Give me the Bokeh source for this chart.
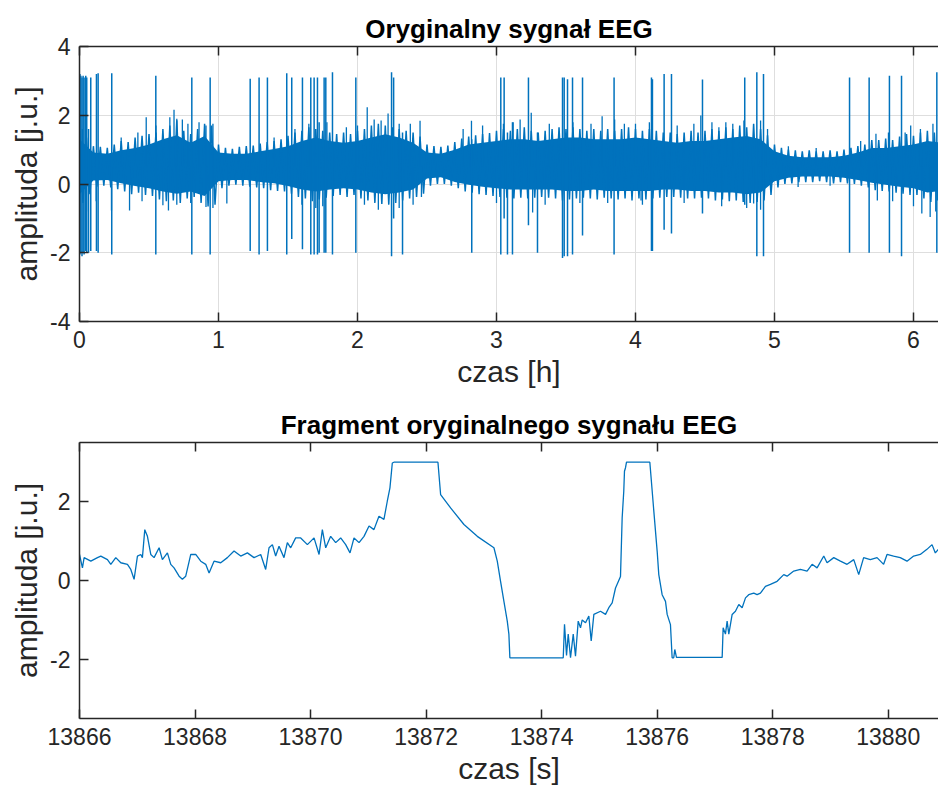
from bokeh.plotting import figure
from bokeh.layouts import column
from bokeh.models import LinearAxis, FixedTicker, Range1d
from bokeh.embed import file_html
from bokeh.resources import INLINE

BLUE = "#0072BD"
INK = "#262626"
FONT = "Liberation Sans"

# ---------------- whole recording (time in hours) ----------------
# solid core of the background activity
core_t = [0.0, 0.1, 0.2, 0.3, 0.4, 0.5, 0.6, 0.7, 0.8, 0.9,
          1.0, 1.1, 1.2, 1.3, 1.4, 1.5, 1.6, 1.7, 1.8, 1.9,
          2.0, 2.1, 2.2, 2.3, 2.4, 2.5, 2.6, 2.7, 2.8, 2.9,
          3.0, 3.1, 3.2, 3.3, 3.4, 3.5, 3.6, 3.7, 3.8, 3.9,
          4.0, 4.1, 4.2, 4.3, 4.4, 4.5, 4.6, 4.7, 4.8, 4.9,
          5.0, 5.1, 5.2, 5.3, 5.4, 5.5, 5.6, 5.7, 5.8, 5.9,
          6.0, 6.1, 6.2]
core_hi = [1.30, 0.92, 0.88, 0.98, 1.05, 1.15, 1.30, 1.42, 1.20, 1.40,
           0.92, 0.88, 0.88, 0.95, 1.02, 1.10, 1.25, 1.35, 1.25, 1.20,
           1.25, 1.35, 1.45, 1.35, 1.20, 0.92, 0.88, 1.00, 1.15, 1.20,
           1.25, 1.30, 1.30, 1.25, 1.30, 1.35, 1.35, 1.30, 1.30, 1.30,
           1.35, 1.30, 1.25, 1.20, 1.25, 1.25, 1.30, 1.35, 1.40, 1.30,
           0.95, 0.82, 0.78, 0.78, 0.78, 0.82, 0.92, 1.05, 1.05, 1.10,
           1.15, 1.25, 1.20]
core_lo = [-0.30, 0.10, 0.12, 0.02, -0.06, -0.12, -0.22, -0.28, -0.22, -0.35,
           0.08, 0.12, 0.12, 0.06, 0.02, -0.06, -0.16, -0.22, -0.16, -0.12,
           -0.16, -0.25, -0.30, -0.25, -0.16, 0.16, 0.20, 0.06, -0.02, -0.08,
           -0.12, -0.16, -0.16, -0.16, -0.16, -0.20, -0.20, -0.16, -0.20, -0.20,
           -0.20, -0.20, -0.16, -0.16, -0.20, -0.20, -0.25, -0.25, -0.30, -0.25,
           0.08, 0.18, 0.22, 0.22, 0.22, 0.18, 0.12, 0.04, -0.02, -0.08,
           -0.12, -0.25, -0.20]

# dense oscillation around the core: alternating crests and troughs
trace_t = [0.000, 0.025, 0.050, 0.075, 0.100, 0.125, 0.150, 0.175, 0.200, 0.225,
           0.250, 0.275, 0.300, 0.325, 0.350, 0.375, 0.400, 0.425, 0.450, 0.475,
           0.500, 0.525, 0.550, 0.575, 0.600, 0.625, 0.650, 0.675, 0.700, 0.725,
           0.750, 0.775, 0.800, 0.825, 0.850, 0.875, 0.900, 0.925, 0.950, 0.975,
           1.000, 1.025, 1.050, 1.075, 1.100, 1.125, 1.150, 1.175, 1.200, 1.225,
           1.250, 1.275, 1.300, 1.325, 1.350, 1.375, 1.400, 1.425, 1.450, 1.475,
           1.500, 1.525, 1.550, 1.575, 1.600, 1.625, 1.650, 1.675, 1.700, 1.725,
           1.750, 1.775, 1.800, 1.825, 1.850, 1.875, 1.900, 1.925, 1.950, 1.975,
           2.000, 2.025, 2.050, 2.075, 2.100, 2.125, 2.150, 2.175, 2.200, 2.225,
           2.250, 2.275, 2.300, 2.325, 2.350, 2.375, 2.400, 2.425, 2.450, 2.475,
           2.500, 2.525, 2.550, 2.575, 2.600, 2.625, 2.650, 2.675, 2.700, 2.725,
           2.750, 2.775, 2.800, 2.825, 2.850, 2.875, 2.900, 2.925, 2.950, 2.975,
           3.000, 3.025, 3.050, 3.075, 3.100, 3.125, 3.150, 3.175, 3.200, 3.225,
           3.250, 3.275, 3.300, 3.325, 3.350, 3.375, 3.400, 3.425, 3.450, 3.475,
           3.500, 3.525, 3.550, 3.575, 3.600, 3.625, 3.650, 3.675, 3.700, 3.725,
           3.750, 3.775, 3.800, 3.825, 3.850, 3.875, 3.900, 3.925, 3.950, 3.975,
           4.000, 4.025, 4.050, 4.075, 4.100, 4.125, 4.150, 4.175, 4.200, 4.225,
           4.250, 4.275, 4.300, 4.325, 4.350, 4.375, 4.400, 4.425, 4.450, 4.475,
           4.500, 4.525, 4.550, 4.575, 4.600, 4.625, 4.650, 4.675, 4.700, 4.725,
           4.750, 4.775, 4.800, 4.825, 4.850, 4.875, 4.900, 4.925, 4.950, 4.975,
           5.000, 5.025, 5.050, 5.075, 5.100, 5.125, 5.150, 5.175, 5.200, 5.225,
           5.250, 5.275, 5.300, 5.325, 5.350, 5.375, 5.400, 5.425, 5.450, 5.475,
           5.500, 5.525, 5.550, 5.575, 5.600, 5.625, 5.650, 5.675, 5.700, 5.725,
           5.750, 5.775, 5.800, 5.825, 5.850, 5.875, 5.900, 5.925, 5.950, 5.975,
           6.000, 6.025, 6.050, 6.075, 6.100, 6.125, 6.150, 6.175]
trace_v = [1.55, -0.55, 1.35, -0.30, 1.10, -0.08, 1.08, -0.05, 1.05, -0.10,
           1.15, -0.15, 1.25, -0.22, 1.22, -0.30, 1.35, -0.25, 1.40, -0.32,
           1.45, -0.35, 1.50, -0.45, 1.60, -0.50, 1.70, -0.48, 1.85, -0.55,
           1.55, -0.42, 1.45, -0.38, 1.60, -0.55, 1.75, -0.65, 1.70, -0.60,
           1.15, -0.12, 1.05, -0.05, 1.02, -0.02, 1.08, -0.05, 1.10, -0.08,
           1.12, -0.10, 1.18, -0.12, 1.22, -0.18, 1.25, -0.20, 1.30, -0.22,
           1.40, -0.28, 1.50, -0.38, 1.55, -0.42, 1.65, -0.50, 1.60, -0.45,
           1.55, -0.40, 1.50, -0.35, 1.45, -0.32, 1.50, -0.38, 1.45, -0.32,
           1.55, -0.42, 1.60, -0.48, 1.70, -0.55, 1.75, -0.58, 1.70, -0.60,
           1.65, -0.55, 1.60, -0.48, 1.55, -0.42, 1.50, -0.38, 1.38, -0.28,
           1.15, -0.05, 1.10, 0.00, 1.08, 0.00, 1.12, -0.05, 1.22, -0.12,
           1.32, -0.22, 1.38, -0.25, 1.42, -0.30, 1.45, -0.32, 1.48, -0.35,
           1.55, -0.38, 1.60, -0.40, 1.55, -0.42, 1.60, -0.40, 1.65, -0.42,
           1.55, -0.40, 1.50, -0.38, 1.55, -0.40, 1.60, -0.42, 1.65, -0.48,
           1.60, -0.45, 1.65, -0.42, 1.60, -0.40, 1.55, -0.42, 1.60, -0.45,
           1.55, -0.40, 1.60, -0.42, 1.55, -0.45, 1.60, -0.42, 1.65, -0.48,
           1.60, -0.42, 1.55, -0.45, 1.60, -0.42, 1.55, -0.40, 1.50, -0.38,
           1.50, -0.38, 1.45, -0.40, 1.50, -0.42, 1.55, -0.42, 1.50, -0.40,
           1.55, -0.42, 1.60, -0.48, 1.55, -0.45, 1.65, -0.50, 1.60, -0.48,
           1.70, -0.52, 1.65, -0.55, 1.75, -0.52, 1.60, -0.48, 1.42, -0.32,
           1.15, -0.10, 1.05, 0.00, 1.00, 0.02, 0.98, 0.05, 0.95, 0.05,
           0.98, 0.05, 0.95, 0.08, 0.95, 0.05, 0.98, 0.02, 0.95, 0.05,
           1.00, 0.02, 1.05, 0.00, 1.10, -0.05, 1.15, -0.10, 1.28, -0.18,
           1.28, -0.20, 1.32, -0.22, 1.28, -0.25, 1.38, -0.28, 1.45, -0.32,
           1.40, -0.32, 1.50, -0.42, 1.55, -0.52, 1.50, -0.48]

# saturating artefacts: time, positive peak, negative peak
art_t = [0.003, 0.010, 0.018, 0.026, 0.033, 0.045, 0.052, 0.065, 0.081, 0.122,
         0.134, 0.232, 0.549, 0.808, 0.940, 1.228, 1.292, 1.352, 1.491, 1.527,
         1.604, 1.664, 1.688, 1.712, 1.724, 1.760, 1.772, 1.820, 1.988, 2.245,
         2.260, 2.324, 2.822, 3.031, 3.055, 3.079, 3.115, 3.230, 3.295, 3.475,
         3.487, 3.511, 3.547, 3.619, 3.846, 4.115, 4.122, 4.206, 4.259, 4.482,
         4.786, 4.873, 4.921, 5.540, 5.681, 5.827, 5.914, 6.168]
art_hi = [3.20, 3.15, 3.10, 3.15, 3.10, 3.15, 3.10, 1.60, 3.10, 3.20,
          3.22, 3.22, 3.15, 3.10, 3.10, 3.06, 3.10, 3.10, 3.22, 3.10,
          3.10, 3.10, 3.10, 3.10, 1.80, 3.10, 3.10, 3.25, 3.10, 3.25,
          3.10, 1.50, 1.30, 3.10, 3.10, 1.50, 1.80, 3.10, 1.50, 3.10,
          3.10, 3.05, 3.10, 3.10, 3.10, 3.10, 3.05, 3.20, 3.20, 3.04,
          3.10, 3.25, 3.20, 3.10, 3.10, 3.15, 3.15, 3.25]
art_lo = [-2.05, -2.00, -2.10, -2.00, -2.05, -1.95, -2.00, -2.00, -1.95, -1.95,
          -2.00, -2.05, -2.05, -2.05, -2.05, -1.95, -2.05, -1.95, -2.05, -1.60,
          -1.90, -2.05, -2.05, -2.05, -2.00, -2.00, -2.00, -2.05, -2.00, -2.10,
          -1.00, -2.05, -2.00, -2.05, -1.00, -2.05, -2.05, -1.20, -2.00, -2.15,
          -2.10, -2.10, -2.05, -1.50, -2.05, -1.95, -1.95, -1.33, -1.44, -0.86,
          -0.60, -2.10, -2.10, -2.00, -2.00, -2.00, -2.10, -2.00]

# isolated larger waves standing out of the background
wave_t = [0.48, 0.65, 0.68, 0.74, 0.91, 0.23, 0.36, 0.60, 0.64, 0.91,
          1.06, 2.07, 2.12, 2.22, 2.45, 2.46, 2.82, 3.17, 3.25, 3.26,
          3.76, 3.85, 4.00, 4.04, 4.47, 4.60, 4.70, 4.85, 4.95, 5.17,
          5.40, 5.73, 5.74, 5.94, 6.06, 6.12,
          0.02, 0.30, 0.42, 0.55, 0.70, 0.78, 0.86, 0.96, 1.40, 1.55,
          1.65, 1.78, 1.92, 2.00, 2.17, 2.30, 2.38, 2.76, 2.90, 3.05,
          3.12, 3.38, 3.55, 3.68, 3.92, 4.10, 4.30, 4.42, 4.55, 4.65,
          4.78, 4.90, 5.10, 5.30, 5.62, 5.82, 5.98, 6.05, 6.14,
          0.05, 0.12, 0.45, 0.70, 0.80, 0.96, 1.60, 1.70, 1.75, 2.05,
          2.15, 2.30, 2.40, 3.00, 3.35, 3.60, 3.80, 4.05, 4.35, 4.62,
          4.80, 4.90, 5.85, 6.00, 6.16]
wave_v = [1.94, 1.94, 2.16, 1.88, 1.70, -0.77, -0.77, -0.62, -0.77, -0.67,
          -0.57, 2.23, 1.88, 2.05, 1.84, -0.38, 1.84, 1.88, 2.07, -0.83,
          1.97, 1.88, 1.75, -0.48, 1.99, 1.65, 1.75, -0.57, 1.60, -0.09,
          -0.05, 1.46, -0.48, 1.50, -0.86, -0.96,
          1.60, 1.35, 1.50, 1.70, 1.90, 1.75, 1.80, 1.75, 1.35, 1.60,
          1.75, 1.80, 1.65, 1.70, 1.85, 1.75, 1.75, 1.60, 1.70, 1.75,
          1.80, 1.75, 1.80, 1.75, 1.75, 1.80, 1.70, 1.75, 1.80, 1.80,
          1.85, 1.85, 1.10, 1.05, 1.25, 1.50, 1.70, 1.60, 1.75,
          -0.80, -0.50, -0.50, -0.60, -0.55, -0.70, -0.60, -0.70, -0.65, -0.60,
          -0.75, -0.70, -0.60, -0.55, -0.60, -0.55, -0.55, -0.60, -0.55, -0.65,
          -0.70, -0.75, -0.50, -0.65, -0.80]
wave_base = 0.5

# ---------------- zoomed fragment (time in seconds) ----------------
frag_t = [13866.000, 13866.051, 13866.080, 13866.196, 13866.311, 13866.369, 13866.484,
          13866.542, 13866.628, 13866.715, 13866.830, 13866.888, 13866.945, 13867.003,
          13867.061, 13867.089, 13867.130, 13867.176, 13867.234, 13867.291, 13867.378,
          13867.435, 13867.522, 13867.580, 13867.637, 13867.724, 13867.781, 13867.839,
          13867.926, 13868.012, 13868.099, 13868.185, 13868.243, 13868.329, 13868.445,
          13868.560, 13868.675, 13868.791, 13868.906, 13869.021, 13869.137, 13869.223,
          13869.281, 13869.339, 13869.396, 13869.454, 13869.540, 13869.598, 13869.656,
          13869.742, 13869.829, 13869.945, 13870.060, 13870.147, 13870.204, 13870.262,
          13870.348, 13870.435, 13870.521, 13870.608, 13870.683, 13870.752, 13870.839,
          13870.925, 13871.012, 13871.097, 13871.184, 13871.270, 13871.328, 13871.374,
          13871.415, 13871.443, 13872.205, 13872.251, 13872.424, 13872.655, 13872.886,
          13873.174, 13873.232, 13873.289, 13873.347, 13873.405, 13873.433, 13873.450,
          13874.374, 13874.396, 13874.431, 13874.460, 13874.500, 13874.547, 13874.586,
          13874.633, 13874.673, 13874.702, 13874.760, 13874.817, 13874.858, 13874.904,
          13875.019, 13875.106, 13875.163, 13875.221, 13875.279, 13875.365, 13875.394,
          13875.422, 13875.434, 13875.452, 13875.469, 13875.873, 13875.942, 13876.000,
          13876.028, 13876.086, 13876.144, 13876.173, 13876.230, 13876.259, 13876.287,
          13876.305, 13876.334, 13877.125, 13877.142, 13877.182, 13877.211, 13877.240,
          13877.298, 13877.355, 13877.413, 13877.471, 13877.529, 13877.585, 13877.672,
          13877.730, 13877.787, 13877.874, 13877.960, 13878.076, 13878.191, 13878.249,
          13878.364, 13878.479, 13878.595, 13878.682, 13878.768, 13878.884, 13878.941,
          13879.057, 13879.172, 13879.287, 13879.403, 13879.489, 13879.574, 13879.690,
          13879.806, 13879.920, 13879.979, 13880.093, 13880.208, 13880.325, 13880.440,
          13880.554, 13880.670, 13880.758, 13880.815, 13880.867]
frag_v = [0.66, 0.32, 0.58, 0.49, 0.58, 0.62, 0.53,
          0.41, 0.58, 0.45, 0.41, 0.28, 0.03, 0.62,
          0.66, 0.58, 1.29, 1.12, 0.66, 0.58, 0.83,
          0.53, 0.70, 0.41, 0.32, 0.11, 0.03, 0.11,
          0.66, 0.66, 0.49, 0.41, 0.19, 0.49, 0.45,
          0.58, 0.75, 0.62, 0.70, 0.58, 0.66, 0.28,
          0.83, 0.91, 0.62, 0.87, 0.58, 0.96, 0.83,
          1.08, 1.08, 0.91, 1.08, 0.66, 1.29, 0.83,
          1.12, 0.96, 1.08, 0.91, 0.70, 1.08, 0.96,
          1.12, 1.38, 1.29, 1.63, 1.55, 2.01, 2.35,
          2.98, 3.00, 3.00, 2.18, 1.84, 1.42, 1.12,
          0.83, 0.49, -0.02, -0.53, -1.03, -1.36, -1.96,
          -1.96, -1.11, -1.90, -1.36, -1.96, -1.36, -1.92,
          -1.03, -1.20, -1.00, -1.07, -0.90, -1.53, -0.86,
          -0.78, -0.86, -0.69, -0.57, -0.19, 0.10, 1.59,
          2.27, 2.77, 2.86, 3.00, 3.00, 1.76, 0.74,
          0.15, -0.36, -0.53, -0.86, -1.12, -1.96, -1.96,
          -1.75, -1.95, -1.95, -1.20, -1.36, -1.03, -1.36,
          -0.86, -0.78, -0.61, -0.69, -0.44, -0.36, -0.32,
          -0.36, -0.32, -0.15, -0.10, -0.02, 0.15, 0.11,
          0.24, 0.28, 0.24, 0.41, 0.32, 0.62, 0.45,
          0.58, 0.49, 0.41, 0.53, 0.15, 0.58, 0.53,
          0.58, 0.41, 0.66, 0.62, 0.58, 0.49, 0.62,
          0.66, 0.79, 0.91, 0.70, 0.79]

top_xticks = [0, 1, 2, 3, 4, 5, 6]
top_yticks = [-4, -2, 0, 2, 4]
bot_xticks = [13866, 13868, 13870, 13872, 13874, 13876, 13878, 13880]
bot_yticks = [-2, 0, 2]


def plain_labels(ticks):
    # ASCII hyphen for negative numbers
    return {t: str(t) for t in ticks}


def style(p, xticks, yticks, xlabel):
    p.outline_line_color = None
    p.background_fill_color = "white"
    p.border_fill_color = "white"
    p.title.text_font = FONT
    p.title.text_font_size = "26px"
    p.title.text_font_style = "bold"
    p.title.text_color = "black"
    p.title.align = "center"
    p.title.offset = 2
    p.title.standoff = 5
    for ax, ticks in ((p.xaxis[0], xticks), (p.yaxis[0], yticks)):
        ax.ticker = FixedTicker(ticks=ticks)
        ax.major_label_overrides = plain_labels(ticks)
        ax.axis_line_color = INK
        ax.axis_line_width = 1.5
        ax.major_tick_line_color = INK
        ax.major_tick_line_width = 1.5
        ax.major_tick_in = 9
        ax.major_tick_out = 0
        ax.minor_tick_in = 0
        ax.minor_tick_out = 0
        ax.major_label_text_font = FONT
        ax.major_label_text_font_size = "23px"
        ax.major_label_text_color = INK
        ax.major_label_standoff = 9
        ax.axis_label_text_font = FONT
        ax.axis_label_text_font_size = "30px"
        ax.axis_label_text_font_style = "normal"
        ax.axis_label_text_color = INK
        ax.axis_label_standoff = 4
    p.xaxis[0].axis_label = xlabel
    p.yaxis[0].axis_label = "amplituda [j.u.]"
    # top spine: tick marks only (drawn as minor ticks, so no labels)
    top = LinearAxis(ticker=FixedTicker(ticks=[], minor_ticks=xticks),
                     axis_line_color=INK, axis_line_width=1.5,
                     major_tick_in=0, major_tick_out=0,
                     minor_tick_line_color=INK, minor_tick_line_width=1.5,
                     minor_tick_in=9, minor_tick_out=0,
                     major_label_standoff=0)
    p.add_layout(top, "above")


p1 = figure(width=938, height=400, output_backend="svg", toolbar_location=None,
            x_range=Range1d(0, 6.18), y_range=Range1d(-4, 4),
            title="Oryginalny sygnał EEG",
            min_border_left=79, min_border_right=0,
            min_border_top=46, min_border_bottom=79)
style(p1, top_xticks, top_yticks, "czas [h]")
p1.xgrid.grid_line_color = "#dedede"
p1.ygrid.grid_line_color = "#dedede"
p1.xgrid.ticker = FixedTicker(ticks=top_xticks)
p1.ygrid.ticker = FixedTicker(ticks=top_yticks)

p1.varea(x=core_t, y1=core_lo, y2=core_hi, color=BLUE)
p1.line(trace_t, trace_v, line_color=BLUE, line_width=1.5)
p1.segment(x0=wave_t, y0=[wave_base] * len(wave_t), x1=wave_t, y1=wave_v,
           line_color=BLUE, line_width=1.3)
p1.segment(x0=art_t, y0=art_lo, x1=art_t, y1=art_hi,
           line_color=BLUE, line_width=1.5)

p2 = figure(width=938, height=396, output_backend="svg", toolbar_location=None,
            x_range=Range1d(13866, 13880.87), y_range=Range1d(-3.5, 3.5),
            title="Fragment oryginalnego sygnału EEG",
            min_border_left=79, min_border_right=0,
            min_border_top=42, min_border_bottom=78)
style(p2, bot_xticks, bot_yticks, "czas [s]")
p2.xgrid.grid_line_color = None
p2.ygrid.grid_line_color = None

p2.line(frag_t, frag_v, line_color=BLUE, line_width=1.3)

layout = column(p1, p2, spacing=0)
open("out.html", "w").write(file_html(layout, INLINE))
